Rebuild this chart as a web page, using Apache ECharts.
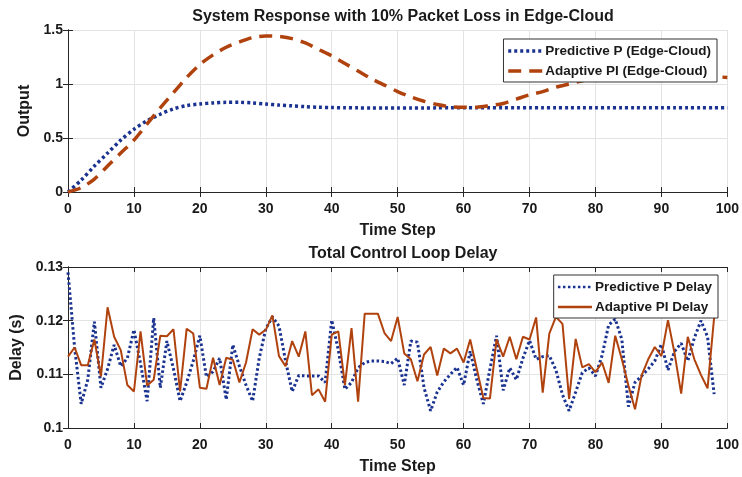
<!DOCTYPE html>
<html>
<head>
<meta charset="utf-8">
<script src="https://cdn.jsdelivr.net/npm/echarts@6/dist/echarts.min.js"></script>
<style>
  html, body { margin: 0; padding: 0; background: #ffffff; }
  #chart { width: 742px; height: 477px; }
</style>
</head>
<body>
<div id="chart"></div>
<script>
// ---- System response (sampled every 2 time steps) ----
const responseSteps = [0,2,4,6,8,10,12,14,16,18,20,22,24,26,28,30,32,34,36,38,40,42,44,46,48,50,
  52,54,56,58,60,62,64,66,68,70,72,74,76,78,80,82,84,86,88,90,92,94,96,98,100];
const predictiveOutput = [0,0.11,0.24,0.36,0.48,0.58,0.66,0.72,0.77,0.80,0.815,0.825,0.83,0.83,0.825,0.815,
  0.805,0.798,0.79,0.785,0.782,0.78,0.779,0.778,0.778,0.778,0.778,0.778,0.779,0.779,0.78,0.78,0.78,0.78,
  0.78,0.78,0.78,0.78,0.78,0.78,0.78,0.78,0.78,0.78,0.78,0.78,0.78,0.78,0.78,0.78,0.78];
const adaptiveOutput = [0,0.04,0.12,0.24,0.36,0.48,0.63,0.78,0.92,1.06,1.18,1.27,1.34,1.39,1.43,1.445,
  1.44,1.42,1.38,1.32,1.26,1.19,1.12,1.05,0.99,0.93,0.88,0.84,0.81,0.79,0.785,0.785,0.80,0.82,0.86,0.90,
  0.93,0.97,1.00,1.03,1.06,1.08,1.10,1.11,1.11,1.11,1.10,1.09,1.08,1.07,1.06];

// ---- Loop delay per time step (0..98) ----
const delaySteps = [0,1,2,3,4,5,6,7,8,9,10,11,12,13,14,15,16,17,18,19,20,21,22,23,24,25,26,27,28,29,
  30,31,32,33,34,35,36,37,38,39,40,41,42,43,44,45,46,47,48,49,50,51,52,53,54,55,56,57,58,59,60,61,62,
  63,64,65,66,67,68,69,70,71,72,73,74,75,76,77,78,79,80,81,82,83,84,85,86,87,88,89,90,91,92,93,94,95,
  96,97,98];
const predictiveDelay = [0.129,0.115,0.1045,0.109,0.1198,0.1075,0.111,0.1155,0.1115,0.113,0.1183,0.112,
  0.105,0.1205,0.1075,0.1162,0.111,0.105,0.1085,0.1125,0.1172,0.1095,0.1105,0.113,0.1053,0.1155,0.1115,
  0.108,0.105,0.113,0.1185,0.1207,0.119,0.1125,0.1068,0.1098,0.1097,0.1097,0.1097,0.1085,0.1201,0.1145,
  0.1072,0.1085,0.1112,0.1122,0.1125,0.1125,0.1124,0.112,0.113,0.108,0.1162,0.116,0.1075,0.1032,0.1067,
  0.1086,0.11,0.1113,0.108,0.1143,0.109,0.1045,0.111,0.1172,0.107,0.1112,0.109,0.113,0.1163,0.1128,
  0.1133,0.1135,0.1108,0.1062,0.1032,0.1067,0.1103,0.1112,0.1097,0.1135,0.1192,0.1203,0.1165,0.104,
  0.1085,0.1097,0.111,0.1125,0.1156,0.1108,0.1143,0.1158,0.1125,0.1168,0.12,0.117,0.1063];
const adaptiveDelay = [0.1133,0.115,0.1117,0.1117,0.1165,0.1096,0.1225,0.117,0.1145,0.108,0.1068,0.118,
  0.1079,0.109,0.1172,0.1171,0.1184,0.1068,0.1185,0.1176,0.1075,0.1073,0.1131,0.108,0.1131,0.1127,
  0.1085,0.1122,0.1184,0.1174,0.1183,0.121,0.1134,0.1115,0.1162,0.1133,0.118,0.1061,0.1072,0.1049,
  0.1174,0.118,0.108,0.1186,0.1049,0.1213,0.1213,0.1213,0.1177,0.1162,0.1207,0.1139,0.1128,0.1087,
  0.1137,0.1151,0.1098,0.1148,0.1139,0.1148,0.1122,0.1165,0.111,0.1056,0.1055,0.1165,0.1133,0.117,
  0.1128,0.117,0.1165,0.1206,0.1066,0.1176,0.1207,0.1194,0.1054,0.1166,0.1113,0.1119,0.1104,0.1122,
  0.1084,0.1172,0.1128,0.1079,0.1035,0.1098,0.1128,0.1151,0.1134,0.1201,0.1139,0.1064,0.117,0.1128,
  0.1099,0.1074,0.1206];

// ---- Axis tick labels ----
const timeTicks = ['0','10','20','30','40','50','60','70','80','90','100'];
const outputTicks = ['0','0.5','1','1.5'];
const delayTicks = ['0.1','0.11','0.12','0.13'];

const BLUE = '#1b3390';
const RUST = '#b0420e';
const FONT = 'Liberation Sans';
const AXIS_COLOR = '#262626';
const GRID_COLOR = '#e3e3e3';
const CENTER_X = 398;

function pairs(xs, ys) { return xs.map((x, i) => [x, ys[i]]); }

function mainX(gridIndex) {
  return {
    gridIndex, type: 'value', min: 0, max: 100, interval: 10,
    name: 'Time Step', nameLocation: 'middle', nameGap: 31,
    nameTextStyle: { fontFamily: FONT, fontWeight: 'bold', fontSize: 16, color: '#1a1a1a' },
    axisLine: { show: true, lineStyle: { color: AXIS_COLOR, width: 1 } },
    axisTick: { show: true, inside: true, length: 5, lineStyle: { color: AXIS_COLOR } },
    axisLabel: {
      margin: 10, fontFamily: FONT, fontWeight: 'bold', fontSize: 14, color: '#1a1a1a',
      formatter: v => timeTicks[Math.round(v / 10)]
    },
    splitLine: { show: true, lineStyle: { color: GRID_COLOR, width: 1 } }
  };
}
function mirrorX(gridIndex) {
  return {
    gridIndex, type: 'value', position: 'top', min: 0, max: 100, interval: 10,
    axisLine: { show: true, lineStyle: { color: AXIS_COLOR, width: 1 } },
    axisTick: { show: true, inside: true, length: 5, lineStyle: { color: AXIS_COLOR } },
    axisLabel: { show: false }, splitLine: { show: false }
  };
}
function mainY(gridIndex, min, max, interval, labels, name, nameGap) {
  return {
    gridIndex, type: 'value', min, max, interval,
    name, nameLocation: 'middle', nameGap,
    nameTextStyle: { fontFamily: FONT, fontWeight: 'bold', fontSize: 16, color: '#1a1a1a' },
    axisLine: { show: true, lineStyle: { color: AXIS_COLOR, width: 1 } },
    axisTick: { show: true, inside: true, length: 5, lineStyle: { color: AXIS_COLOR } },
    axisLabel: {
      margin: 5, fontFamily: FONT, fontWeight: 'bold', fontSize: 14, color: '#1a1a1a',
      formatter: v => labels[Math.round((v - min) / interval)]
    },
    splitLine: { show: true, lineStyle: { color: GRID_COLOR, width: 1 } }
  };
}
function mirrorY(gridIndex, min, max, interval) {
  return {
    gridIndex, type: 'value', position: 'right', min, max, interval,
    axisLine: { show: true, lineStyle: { color: AXIS_COLOR, width: 1 } },
    axisTick: { show: true, inside: true, length: 5, lineStyle: { color: AXIS_COLOR } },
    axisLabel: { show: false }, splitLine: { show: false }
  };
}

const legendBase = {
  orient: 'vertical', itemGap: 6, itemWidth: 34, itemHeight: 10,
  padding: [5, 6, 4, 3],
  backgroundColor: '#ffffff', borderColor: '#333333', borderWidth: 1,
  itemStyle: { opacity: 0 },
  textStyle: { fontFamily: FONT, fontWeight: 'bold', fontSize: 13.5, color: '#1a1a1a', padding: [0, 0, 0, -2] }
};

const chart = echarts.init(document.getElementById('chart'), null, { renderer: 'canvas' });
chart.setOption({
  animation: false,
  backgroundColor: '#ffffff',
  title: [
    { text: 'System Response with 10% Packet Loss in Edge-Cloud', left: CENTER_X, top: 4, textAlign: 'center',
      textStyle: { fontFamily: FONT, fontWeight: 'bold', fontSize: 16, color: '#1a1a1a' } },
    { text: 'Total Control Loop Delay', left: CENTER_X, top: 241, textAlign: 'center',
      textStyle: { fontFamily: FONT, fontWeight: 'bold', fontSize: 16, color: '#1a1a1a' } }
  ],
  grid: [
    { left: 68, right: 13, top: 30, height: 162 },
    { left: 68, right: 13, top: 267, height: 161 }
  ],
  legend: [
    Object.assign({}, legendBase, { right: 25, top: 39,
      lineStyle: { width: 3.5 },
      data: ['Predictive P (Edge-Cloud)', 'Adaptive PI (Edge-Cloud)'] }),
    Object.assign({}, legendBase, { right: 24, top: 275,
      lineStyle: { width: 2.5 },
      data: ['Predictive P Delay', 'Adaptive PI Delay'] })
  ],
  xAxis: [mainX(0), mainX(1), mirrorX(0), mirrorX(1)],
  yAxis: [
    mainY(0, 0, 1.5, 0.5, outputTicks, 'Output', 28),
    mainY(1, 0.1, 0.13, 0.01, delayTicks, 'Delay (s)', 36),
    mirrorY(0, 0, 1.5, 0.5),
    mirrorY(1, 0.1, 0.13, 0.01)
  ],
  series: [
    { name: 'Predictive P (Edge-Cloud)', type: 'line', xAxisIndex: 0, yAxisIndex: 0,
      data: pairs(responseSteps, predictiveOutput), smooth: 0.3, showSymbol: false, symbol: 'none',
      lineStyle: { color: BLUE, width: 3.5, type: [3, 3], cap: 'butt' }, itemStyle: { color: BLUE } },
    { name: 'Adaptive PI (Edge-Cloud)', type: 'line', xAxisIndex: 0, yAxisIndex: 0,
      data: pairs(responseSteps, adaptiveOutput), smooth: 0.3, showSymbol: false, symbol: 'none',
      lineStyle: { color: RUST, width: 3.5, type: [13, 8], cap: 'butt' }, itemStyle: { color: RUST } },
    { name: 'Predictive P Delay', type: 'line', xAxisIndex: 1, yAxisIndex: 1,
      data: pairs(delaySteps, predictiveDelay), showSymbol: false, symbol: 'none',
      lineStyle: { color: BLUE, width: 3, type: [2.5, 2.5], cap: 'butt' }, itemStyle: { color: BLUE } },
    { name: 'Adaptive PI Delay', type: 'line', xAxisIndex: 1, yAxisIndex: 1,
      data: pairs(delaySteps, adaptiveDelay), showSymbol: false, symbol: 'none',
      lineStyle: { color: RUST, width: 2, type: 'solid' }, itemStyle: { color: RUST } }
  ]
});
</script>
</body>
</html>
